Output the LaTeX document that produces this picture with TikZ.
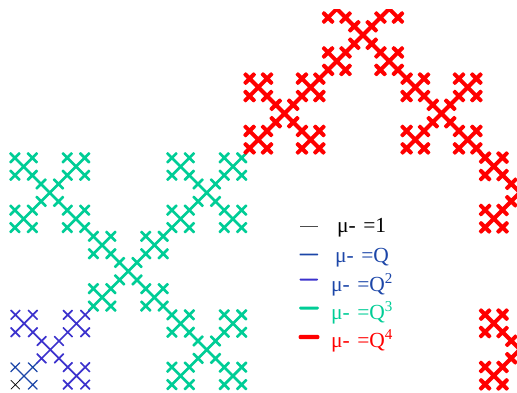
\documentclass[tikz,border=0pt]{standalone}
\usepackage{fontspec}
\setmainfont{Liberation Serif}
\def\hh{4.36}
\def\fl{0/0,1/1,1/-1,-1/1,-1/-1}
\def\flx{0/0,1/1,1/-1,-1/-1}
% one X as a filled outline with octagonal arm ends; \ca is half the stroke width divided by sqrt 2
\newcommand\crossat[2]{%
 ({#1+\hh-\ca},{#2-\hh-\ca})--({#1+\hh},{#2-\hh-1.41*\ca})--({#1+\hh+1.41*\ca},{#2-\hh})--({#1+\hh+\ca},{#2-\hh+\ca})--({#1+2*\ca},{#2})--%
 ({#1+\hh+\ca},{#2+\hh-\ca})--({#1+\hh+1.41*\ca},{#2+\hh})--({#1+\hh},{#2+\hh+1.41*\ca})--({#1+\hh-\ca},{#2+\hh+\ca})--({#1},{#2+2*\ca})--%
 ({#1-\hh+\ca},{#2+\hh+\ca})--({#1-\hh},{#2+\hh+1.41*\ca})--({#1-\hh-1.41*\ca},{#2+\hh})--({#1-\hh-\ca},{#2+\hh-\ca})--({#1-2*\ca},{#2})--%
 ({#1-\hh-\ca},{#2-\hh+\ca})--({#1-\hh-1.41*\ca},{#2-\hh})--({#1-\hh},{#2-\hh-1.41*\ca})--({#1-\hh+\ca},{#2-\hh-\ca})--({#1},{#2-2*\ca})--cycle }
\newcommand\fourpath[3]{foreach \pa/\pb in #3 {foreach \pc/\pd in \fl {foreach \pe/\pf in \fl {\crossat{#1+\pa*78.5+\pc*26.17+\pe*8.72}{#2+\pb*78.5+\pd*26.17+\pf*8.72}}}}}
\newcommand\threepath[3]{foreach \pc/\pd in #3 {foreach \pe/\pf in \fl {\crossat{#1+\pc*26.17+\pe*8.72}{#2+\pd*26.17+\pf*8.72}}}}
\newcommand\twopath[3]{foreach \pe/\pf in #3 {\crossat{#1+\pe*8.72}{#2+\pf*8.72}}}
\definecolor{kdark}{RGB}{28,70,168}
\definecolor{kblue}{RGB}{60,50,205}
\definecolor{kgreen}{RGB}{0,205,150}
\definecolor{kred}{RGB}{255,0,0}
\tikzset{
 stylea/.style={fill=black},
 styleb/.style={fill=kdark},
 stylec/.style={fill=kblue},
 styled/.style={fill=kgreen},
 stylee/.style={fill=kred},
 lab/.style={anchor=base west,inner sep=0pt,font=\fontsize{21.5}{22}\selectfont},
}
\newcommand\legtext[1]{μ-\hspace{2pt} =#1}
\begin{document}
\begin{tikzpicture}[x=1pt,y=-1pt]
\useasboundingbox (0,0) rectangle (517,392);
\def\ca{0.95}
\fill[styled] \fourpath{128.3}{271.2}{\flx};
\def\ca{1.41}
\begin{scope}
\clip (0,9) rectangle (517,392);
\fill[stylee] \fourpath{363}{35}{\fl};
\fill[stylee] \fourpath{598.5}{271}{\fl};
\end{scope}
\def\ca{0.6}
\fill[stylec] \threepath{50.3}{349.7}{\flx};
\def\ca{0.46}
\fill[styleb] \twopath{24}{376}{\flx};
\def\ca{0.25}
\fill[stylea] \crossat{15.3}{384.7};
% legend
\coordinate (a1) at (299.5,225.5); \coordinate (b1) at (318,226.5);
\coordinate (a2) at (299.5,253.6); \coordinate (b2) at (318,255.4);
\coordinate (a3) at (299.5,278.5); \coordinate (b3) at (318,280.5);
\coordinate (a4) at (299,306.5); \coordinate (b4) at (319,309.5);
\coordinate (a5) at (298.5,334.8); \coordinate (b5) at (319.5,339.2);
\fill[black!70] (a1) rectangle (b1);
\fill[kdark,rounded corners=0.6pt] (a2) rectangle (b2);
\fill[kblue,rounded corners=0.8pt] (a3) rectangle (b3);
\fill[kgreen,rounded corners=1.4pt] (a4) rectangle (b4);
\fill[kred,rounded corners=2.1pt] (a5) rectangle (b5);
\node[lab,text=black] (t1) at (337,232) {\legtext{1}};
\node[lab,text=kdark] (t2) at (335,262) {\legtext{Q}};
\node[lab,text=kdark] (t3) at (331,291) {\legtext{Q\textsuperscript{2}}};
\node[lab,text=kgreen] (t4) at (331,319) {\legtext{Q\textsuperscript{3}}};
\node[lab,text=kred] (t5) at (331,347) {\legtext{Q\textsuperscript{4}}};
\end{tikzpicture}
\end{document}
